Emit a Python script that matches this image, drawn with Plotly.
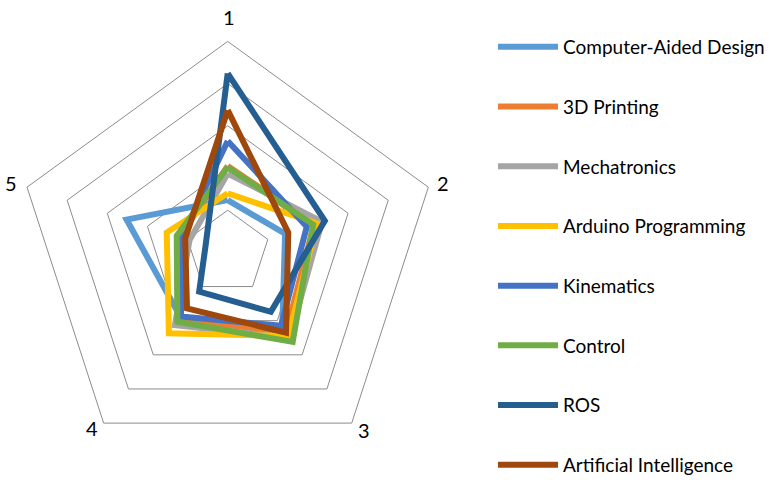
import math
import plotly.graph_objects as go

# Axes of the radar (the five assessment items)
axes_labels = ["1", "2", "3", "4", "5"]

# Average scores for each course on the five items
cad = [1.24, 1.43, 2.20, 1.90, 2.52]
printing_3d = [2.05, 2.15, 2.35, 1.95, 1.20]
mechatronics = [1.87, 2.35, 2.50, 2.13, 0.95]
arduino = [1.40, 2.22, 2.45, 2.37, 1.52]
kinematics = [2.64, 1.97, 2.15, 1.88, 1.15]
control = [2.02, 2.13, 2.62, 2.03, 1.27]
ros = [4.24, 2.42, 1.74, 1.15, 0.55]
ai = [3.37, 1.51, 2.35, 1.64, 1.06]

series_names = [
    "Computer-Aided Design", "3D Printing", "Mechatronics", "Arduino Programming",
    "Kinematics", "Control", "ROS", "Artificial Intelligence",
]
series_values = [cad, printing_3d, mechatronics, arduino, kinematics, control, ros, ai]
series_colors = ["#5B9BD5", "#ED7D31", "#A5A5A5", "#FFC000",
                 "#4472C4", "#70AD47", "#255E91", "#9E480E"]

fig = go.Figure()
for i, (name, vals, color) in enumerate(zip(series_names, series_values, series_colors)):
    fig.add_trace(go.Scatterpolar(
        r=vals + vals[:1],
        theta=axes_labels + axes_labels[:1],
        mode="lines",
        name=name,
        legendgroup=f"g{i}",
        line=dict(color=color, width=6),
    ))

W, H = 779, 484
cx, cy, R = 227.7, 252.4, 211.0

# Category labels placed just outside each outer vertex, Excel-style anchoring
label_style = [  # xanchor, yanchor, xshift, yshift
    ("center", "bottom", 1, 10),
    ("left", "middle", 7, 4),
    ("left", "middle", 4, -7),
    ("right", "middle", -4, -5),
    ("right", "middle", -8, 4),
]
annotations = []
for k, (lab, (xa, ya, xs, ys)) in enumerate(zip(axes_labels, label_style)):
    ang = math.radians(90 - 72 * k)
    vx = cx + R * math.cos(ang)
    vy = cy - R * math.sin(ang)
    annotations.append(dict(
        x=vx / W, y=1 - vy / H, xref="paper", yref="paper", text=lab,
        showarrow=False, xanchor=xa, yanchor=ya, xshift=xs, yshift=ys,
        font=dict(size=20, color="#000000"),
    ))

fig.update_layout(
    width=W, height=H,
    margin=dict(l=0, r=0, t=0, b=0),
    paper_bgcolor="white",
    plot_bgcolor="white",
    font=dict(family="Lato, 'Open Sans', sans-serif", color="#000000"),
    polar=dict(
        domain=dict(x=[(cx - R) / W, (cx + R) / W],
                    y=[1 - (cy + R) / H, 1 - (cy - R) / H]),
        gridshape="linear",
        bgcolor="white",
        radialaxis=dict(range=[0, 5], dtick=1, showticklabels=False, ticks="",
                        showline=False, gridcolor="#8C8C8C", gridwidth=1),
        angularaxis=dict(direction="clockwise", rotation=90, showgrid=False,
                         showline=True, linecolor="#8C8C8C", linewidth=1,
                         ticks="", showticklabels=False),
    ),
    annotations=annotations,
    legend=dict(x=493 / W, y=0, xanchor="left", yanchor="bottom",
                font=dict(size=19, color="#000000"),
                tracegroupgap=32, itemwidth=60, bgcolor="rgba(0,0,0,0)"),
)

fig.write_html("out.html")
